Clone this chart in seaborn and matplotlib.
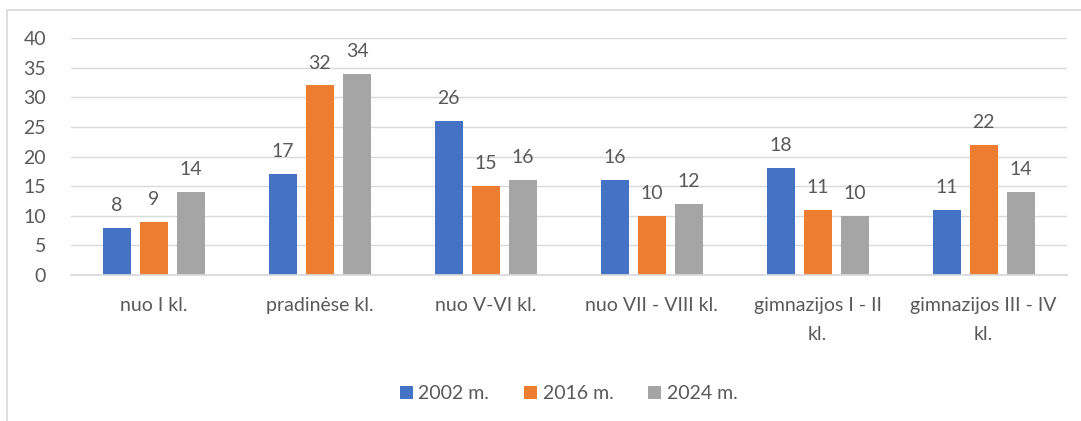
import matplotlib
matplotlib.use("Agg")
import matplotlib.pyplot as plt
import seaborn as sns
import pandas as pd
from matplotlib.patches import Rectangle

categories = ["nuo I kl.", "pradinėse kl.", "nuo V-VI kl.", "nuo VII - VIII kl.",
              "gimnazijos I - II\nkl.", "gimnazijos III - IV\nkl."]
series = ["2002 m.", "2016 m.", "2024 m."]
v2002 = [8, 17, 26, 16, 18, 11]
v2016 = [9, 32, 15, 10, 11, 22]
v2024 = [14, 34, 16, 12, 10, 14]
colors = ["#4472C4", "#ED7D31", "#A5A5A5"]

rows = []
for s, vals in zip(series, [v2002, v2016, v2024]):
    for c, v in zip(categories, vals):
        rows.append({"cat": c, "series": s, "val": v})
df = pd.DataFrame(rows)

sns.set_theme(style="white")
plt.rcParams['font.family'] = ['Lato', 'DejaVu Sans']
txt = "#595959"
fs = 14

fig = plt.figure(figsize=(10.81, 4.21), dpi=100)
ax = fig.add_axes([0.0657, 0.3468, 0.921, 0.5629])
sns.barplot(data=df, x="cat", y="val", hue="series", palette=colors,
            saturation=1, linewidth=0, width=0.67, gap=0.24, ax=ax, legend=True)

ax.set_ylim(0, 40)
ax.set_yticks(range(0, 41, 5))
ax.set_xlim(-0.5, 5.5)
ax.yaxis.grid(True, color="#D9D9D9", linewidth=1)
ax.set_axisbelow(True)
for sp in ["top", "right", "left"]:
    ax.spines[sp].set_visible(False)
ax.spines["bottom"].set_color("#D9D9D9")
ax.set_xlabel("")
ax.set_ylabel("")
ax.tick_params(axis="both", length=0, labelsize=fs, colors=txt)
ax.tick_params(axis="x", pad=16)
ax.tick_params(axis="y", pad=18)
for lab in ax.get_xticklabels():
    lab.set_linespacing(1.85)

for cont in ax.containers:
    ax.bar_label(cont, fmt="%g", padding=10, fontsize=fs, color=txt)

leg = ax.legend(loc="center", bbox_to_anchor=(0.5, -0.5), ncol=3,
                frameon=False, fontsize=fs, handlelength=0.65, handleheight=0.65,
                handletextpad=0.3, columnspacing=1.8)
for t in leg.get_texts():
    t.set_color(txt)

fig.patches.append(Rectangle((7/1081, -0.1), 1.2, 1 + 0.1 - 10/421, transform=fig.transFigure,
                             fill=False, edgecolor="#D9D9D9", linewidth=1.2))

fig.savefig("out.png", dpi=100)
